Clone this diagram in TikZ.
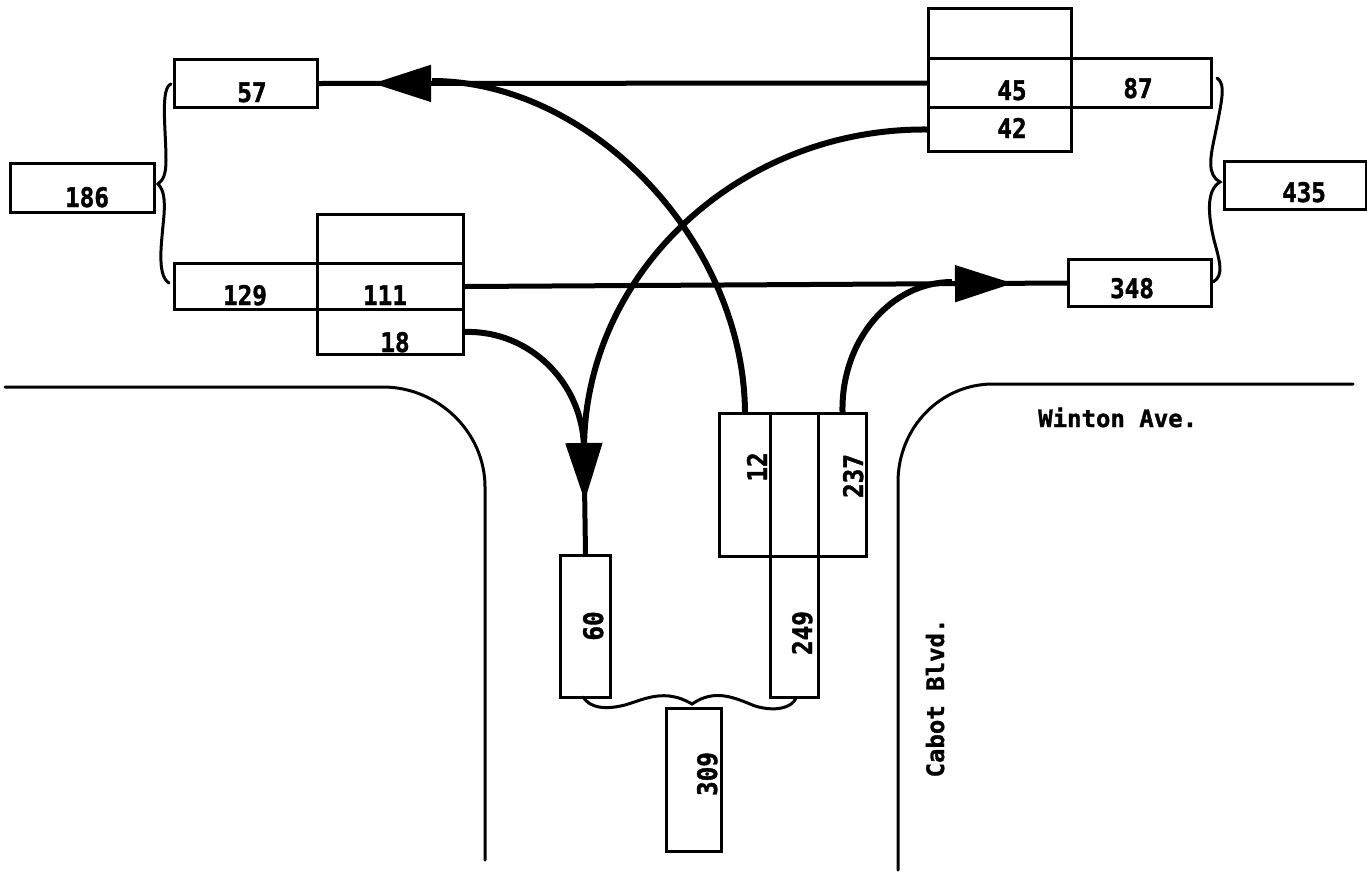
\documentclass[tikz,border=0pt]{standalone}
\usepackage{fontspec}
\newfontfamily\lblfont{DejaVu Sans Mono}[BoldFeatures={FakeBold=1.2}]
\newfontfamily\numfont{DejaVu Sans Mono}[BoldFeatures={FakeBold=1.4,FakeStretch=0.9}]
\usetikzlibrary{arrows.meta,decorations.markings}
\tikzset{
  box/.style={draw, line width=3pt, inner sep=0pt, anchor=north west},
  num/.style={font=\numfont\bfseries\fontsize{27}{27}\selectfont, inner sep=0pt, anchor=base},
  street/.style={font=\lblfont\bfseries\fontsize{24}{24}\selectfont, inner sep=0pt},
  road/.style={line width=3pt, line cap=round},
  flow/.style={line width=5pt},
  curveline/.style={line width=6pt},
  brc/.style={line width=3pt, line cap=round},
  headat/.style={postaction={decorate, decoration={markings,
      mark=at position #1 with {\arrow{Triangle[length=58pt,width=36pt]}}}}},
}
\begin{document}
\begin{tikzpicture}[x=1pt,y=-1pt]
\useasboundingbox (0,0) rectangle (1367,881);

% roads
\draw[road] (5,387) -- (383,387) .. controls (438,387) and (485,432) .. (485,487) -- (485,860);
\draw[road] (898,870) -- (898,482) .. controls (898,428) and (940,384) .. (993,384) -- (1353,384);

% boxes west
\node[box, minimum width=143pt, minimum height=48pt] (b57) at (173,58) {};
\node[box, minimum width=144pt, minimum height=49pt] (b186) at (9,162) {};
\node[box, minimum width=143pt, minimum height=46pt] (b129) at (173,262) {};
\node[box, minimum width=146pt, minimum height=49pt] (t111) at (316,213) {};
\node[box, minimum width=146pt, minimum height=46pt] (r111) at (316,262) {};
\node[box, minimum width=146pt, minimum height=45pt] (r18) at (316,308) {};
% boxes east
\node[box, minimum width=143pt, minimum height=50pt] (t45) at (927,7) {};
\node[box, minimum width=143pt, minimum height=49pt] (r45) at (927,57) {};
\node[box, minimum width=140pt, minimum height=49pt] (r87) at (1070,57) {};
\node[box, minimum width=143pt, minimum height=44pt] (r42) at (927,106) {};
\node[box, minimum width=142pt, minimum height=48pt] (b435) at (1223,160) {};
\node[box, minimum width=143pt, minimum height=47pt] (b348) at (1067,258) {};
% boxes south
\node[box, minimum width=51pt, minimum height=143pt] (c12) at (718,412) {};
\node[box, minimum width=48pt, minimum height=143pt] (cmid) at (769,412) {};
\node[box, minimum width=48pt, minimum height=143pt] (c237) at (817,412) {};
\node[box, minimum width=48pt, minimum height=141pt] (b249) at (769,555) {};
\node[box, minimum width=50pt, minimum height=142pt] (b60) at (559,554) {};
\node[box, minimum width=55pt, minimum height=143pt] (b309) at (665,707) {};

% numbers
\node[num] at (252,102) {57};
\node[num] at (87,207) {186};
\node[num] at (245,305) {129};
\node[num] at (385,305) {111};
\node[num] at (395,352) {18};
\node[num] at (1012,100) {45};
\node[num] at (1138,98) {87};
\node[num] at (1012,138) {42};
\node[num] at (1304,202) {435};
\node[num] at (1132,298) {348};
\node[num, rotate=90] at (767,467) {12};
\node[num, rotate=90] at (863,476) {237};
\node[num, rotate=90] at (603,626) {60};
\node[num, rotate=90] at (812,633) {249};
\node[num, rotate=90] at (717,774) {309};

% street names
\node[street, anchor=base west] (winton) at (1038,427) {Winton Ave.};
\node[street, rotate=90, anchor=base] (cabot) at (944,698) {Cabot Blvd.};

% braces
\draw[brc] (171,84) .. controls (160,88) and (166,130) .. (166,160)
  .. controls (166,175) and (163,180) .. (158,184)
  .. controls (164,190) and (165,200) .. (164,215)
  .. controls (162,240) and (156,275) .. (169,283);
\draw[brc] (1217,78) .. controls (1226,84) and (1222,100) .. (1215,135)
  .. controls (1210,158) and (1207,175) .. (1220,182)
  .. controls (1206,190) and (1208,215) .. (1214,240)
  .. controls (1220,262) and (1224,276) .. (1213,282);
\draw[brc] (583,697) .. controls (590,708) and (605,710) .. (625,705)
  .. controls (645,699) and (665,688) .. (692,704)
  .. controls (715,688) and (735,698) .. (755,706)
  .. controls (775,712) and (792,708) .. (796,698);

% junctions
\coordinate (jA) at (432,81);
\coordinate (jC) at (952,282);
\coordinate (jE) at (584,450);

% movements
\draw[flow, headat=554pt] (r45.west) -- (b57.east);
\draw[flow, headat=548pt] (r111.east) -- (b348.west);
\draw[curveline] (c12.north) .. controls (743.5,240) and (590,81) .. (jA);
\draw[curveline] (c237.north) .. controls (841,340) and (891,282) .. (jC);
\draw[curveline] (r42.west) .. controls (739,128) and (584,273) .. (jE);
\draw[curveline] (r18.east) .. controls (530,330) and (584,384) .. (jE);
\draw[flow, headat=51pt] (jE) -- (b60.north);
\end{tikzpicture}
\end{document}
